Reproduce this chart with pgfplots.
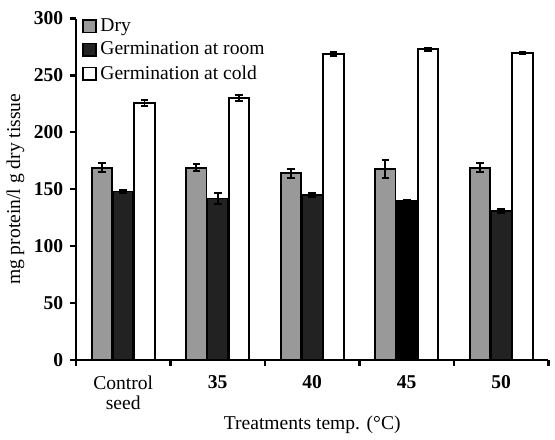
\documentclass[border=0pt]{standalone}
\usepackage{fontspec}
\setmainfont{Liberation Serif}
\usepackage{pgfplots}
\pgfplotsset{compat=1.18}

\definecolor{dryc}{RGB}{153,153,153}
\definecolor{roomc}{RGB}{34,34,34}

\begin{document}
\fontsize{10}{12}\selectfont
\begin{tikzpicture}
\begin{axis}[
    name=ax,
    scale only axis,
    width=241.5pt, height=174.5pt,
    xmin=-0.5, xmax=4.5,
    ymin=0, ymax=300,
    axis lines=left,
    axis line style={-, line width=1.1pt},
    ytick={0,50,...,300},
    yticklabel style={font=\bfseries},
    /pgf/number format/assume math mode=true,
    xtick={-0.5,0.5,1.5,2.5,3.5,4.5},
    xticklabels={},
    extra x ticks={0,1,2,3,4},
    extra x tick labels={{Control\\seed},\textbf{35},\textbf{40},\textbf{45},\textbf{50}},
    extra x tick style={major tick length=0pt,
        tick label style={align=center, yshift=-4.5pt, font=\fontsize{10}{10.5}\selectfont}},
    tick align=outside,
    major tick length=3pt,
    tick style={black, line width=1.1pt},
    xlabel={Treatments temp. (°C)},
    xlabel style={yshift=7pt},
    ylabel={mg protein/l g dry tissue},
    ylabel style={yshift=-2pt},
    bar width=0.215,
    legend style={at={(0.0,1.025)}, anchor=north west, draw=none, fill=none,
        font=\fontsize{10}{11}\selectfont, row sep=0pt,
        legend cell align=left},
    legend image code/.code={\draw[#1, line width=0.9pt] (0pt,-3.2pt) rectangle (6.4pt,3.2pt);},
    every axis plot/.append style={draw=black, line width=0.9pt},
    error bars/error bar style={black, line width=1pt},
    error bars/error mark options={rotate=90, mark size=2pt, line width=1pt, black},
]

% Dry (bars placed left of each category centre)
\addplot[ybar, bar shift=0, fill=dryc,
    error bars/.cd, y dir=both, y explicit] coordinates {
    (-0.225,169) +- (0,4) (0.775,169) +- (0,3) (1.775,164) +- (0,4) (2.775,168) +- (0,8) (3.775,169) +- (0,4)};
\addlegendentry{Dry}

% Germination at room
\addplot[ybar, bar shift=0, fill=roomc,
    error bars/.cd, y dir=both, y explicit] coordinates {
    (0,148) +- (0,1.5) (1,142) +- (0,5) (2,145) +- (0,1.5) (3,140) +- (0,1) (4,131) +- (0,2)};
\addlegendentry{Germination at room}

% Germination at cold
\addplot[ybar, bar shift=0, fill=white,
    error bars/.cd, y dir=both, y explicit] coordinates {
    (0.225,226) +- (0,2.5) (1.225,230) +- (0,2.5) (2.225,269) +- (0,1.5) (3.225,273) +- (0,1.5) (4.225,270) +- (0,1)};
\addlegendentry{Germination at cold}

% 45 room bar is pure black in the original
\addplot[ybar, bar shift=0, fill=black, forget plot] coordinates {(3,140)};

\end{axis}
\path ([yshift=9.5pt]ax.north west);
\end{tikzpicture}
\end{document}
